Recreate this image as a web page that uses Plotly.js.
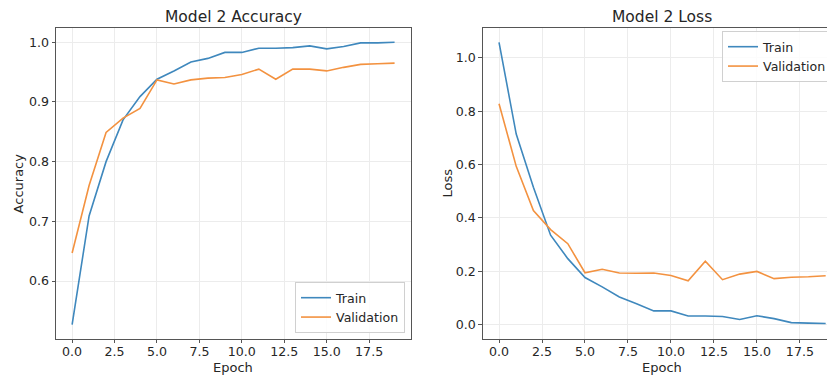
<!DOCTYPE html>
<html>
<head>
<meta charset="utf-8">
<script src="https://cdn.plot.ly/plotly-3.0.1.min.js"></script>
<style>
html,body{margin:0;padding:0;overflow:hidden;background:#fff;}
#chart{width:850px;height:376px;}
</style>
</head>
<body>
<div id="chart"></div>
<script>
const epochs = [0,1,2,3,4,5,6,7,8,9,10,11,12,13,14,15,16,17,18,19];
const trainAcc = [0.527,0.709,0.800,0.870,0.909,0.938,0.952,0.967,0.973,0.983,0.983,0.990,0.990,0.991,0.994,0.989,0.993,0.999,0.999,1.000];
const valAcc = [0.647,0.760,0.849,0.873,0.889,0.937,0.930,0.937,0.940,0.941,0.946,0.955,0.938,0.955,0.955,0.952,0.958,0.963,0.964,0.965];
const trainLoss = [1.058,0.714,0.515,0.335,0.247,0.176,0.141,0.103,0.078,0.051,0.051,0.032,0.032,0.030,0.019,0.033,0.022,0.007,0.005,0.004];
const valLoss = [0.828,0.593,0.427,0.356,0.303,0.194,0.207,0.193,0.192,0.193,0.184,0.164,0.237,0.168,0.189,0.199,0.172,0.177,0.179,0.183];
const seriesNames = ["Train","Validation"];
const titles = ["Model 2 Accuracy","Model 2 Loss"];
const xLabel = "Epoch";
const yLabels = ["Accuracy","Loss"];

const W = 850, H = 376;
const BLUE = "#3f88bd", ORANGE = "#f39240";
const FONT = "DejaVu Sans";
const TXT = "#262626";
const SPINE = "#555555";
const GRID = "#ececec";

const fx = px => px / W;
const fy = py => (H - py) / H;

const traces = [
  {x: epochs, y: trainAcc, name: seriesNames[0], mode: "lines", line: {color: BLUE, width: 1.6}, xaxis: "x", yaxis: "y", legend: "legend"},
  {x: epochs, y: valAcc, name: seriesNames[1], mode: "lines", line: {color: ORANGE, width: 1.6}, xaxis: "x", yaxis: "y", legend: "legend"},
  {x: epochs, y: trainLoss, name: seriesNames[0], mode: "lines", line: {color: BLUE, width: 1.6}, xaxis: "x2", yaxis: "y2", legend: "legend2"},
  {x: epochs, y: valLoss, name: seriesNames[1], mode: "lines", line: {color: ORANGE, width: 1.6}, xaxis: "x2", yaxis: "y2", legend: "legend2"}
];

const axBase = {
  showline: true, mirror: true, linecolor: SPINE, linewidth: 1,
  ticks: "outside", ticklen: 3.5, tickcolor: SPINE, tickwidth: 1,
  showgrid: true, gridcolor: GRID, gridwidth: 1, zeroline: false,
  tickfont: {family: FONT, size: 12.6, color: TXT}, tickformat: ".1f"
};

const yTop = fy(28.3), yBot = fy(338.5);

const layout = {
  width: W, height: H,
  margin: {l: 0, r: 0, t: 0, b: 0},
  paper_bgcolor: "#fff", plot_bgcolor: "#fff",
  font: {family: FONT, color: TXT},
  showlegend: true,
  xaxis: Object.assign({}, axBase, {domain: [fx(56), fx(410.7)], range: [-0.95, 19.95], tick0: 0, dtick: 2.5, anchor: "y", ticklabelstandoff: -2}),
  yaxis: Object.assign({}, axBase, {domain: [yBot, yTop], range: [0.5037, 1.0234], tick0: 0, dtick: 0.1, anchor: "x"}),
  xaxis2: Object.assign({}, axBase, {domain: [fx(482.7), fx(842)], range: [-0.95, 19.95], tick0: 0, dtick: 2.5, anchor: "y2", ticklabelstandoff: -2}),
  yaxis2: Object.assign({}, axBase, {domain: [yBot, yTop], range: [-0.0525, 1.1107], tick0: 0, dtick: 0.2, anchor: "x2"}),
  legend: {
    x: fx(405), y: fy(333), xanchor: "right", yanchor: "bottom",
    bgcolor: "rgba(255,255,255,0.85)", bordercolor: "#d0d0d0", borderwidth: 1,
    font: {family: FONT, size: 12.6, color: TXT}, tracegroupgap: 0
  },
  legend2: {
    x: fx(832), y: fy(31), xanchor: "right", yanchor: "top",
    bgcolor: "rgba(255,255,255,0.85)", bordercolor: "#d0d0d0", borderwidth: 1,
    font: {family: FONT, size: 12.6, color: TXT}, tracegroupgap: 0
  },
  annotations: [
    {text: titles[0], x: fx(233.4), y: fy(17), xref: "paper", yref: "paper", showarrow: false, xanchor: "center", yanchor: "middle", font: {family: FONT, size: 15.5, color: TXT}},
    {text: titles[1], x: fx(662.3), y: fy(17), xref: "paper", yref: "paper", showarrow: false, xanchor: "center", yanchor: "middle", font: {family: FONT, size: 15.5, color: TXT}},
    {text: xLabel, x: fx(233.4), y: fy(367.5), xref: "paper", yref: "paper", showarrow: false, xanchor: "center", yanchor: "middle", font: {family: FONT, size: 13, color: TXT}},
    {text: xLabel, x: fx(662.3), y: fy(367.5), xref: "paper", yref: "paper", showarrow: false, xanchor: "center", yanchor: "middle", font: {family: FONT, size: 13, color: TXT}},
    {text: yLabels[0], x: fx(18), y: fy(183.4), xref: "paper", yref: "paper", showarrow: false, textangle: -90, xanchor: "center", yanchor: "middle", font: {family: FONT, size: 13, color: TXT}},
    {text: yLabels[1], x: fx(447), y: fy(183.4), xref: "paper", yref: "paper", showarrow: false, textangle: -90, xanchor: "center", yanchor: "middle", font: {family: FONT, size: 13, color: TXT}}
  ]
};

Plotly.newPlot("chart", traces, layout, {staticPlot: true, displayModeBar: false});
</script>
</body>
</html>
